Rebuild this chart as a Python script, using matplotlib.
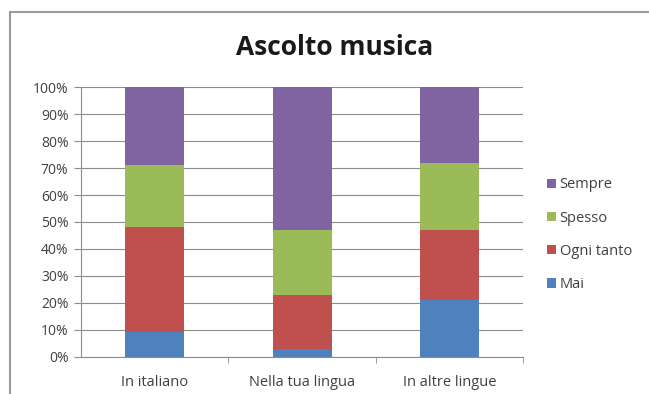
import matplotlib.pyplot as plt
import numpy as np
from matplotlib.patches import Rectangle
from matplotlib.ticker import PercentFormatter

# stacked shares per category (percent)
categories = ['In italiano', 'Nella tua lingua', 'In altre lingue']
mai = [9, 3, 21]
ogni_tanto = [39, 20, 26]
spesso = [23, 24, 25]
sempre = [29, 53, 28]
series_names = ['Mai', 'Ogni tanto', 'Spesso', 'Sempre']
colors = ['#4F81BD', '#C0504D', '#9BBB59', '#8064A2']

plt.rcParams['font.family'] = ['Open Sans', 'DejaVu Sans']

fig = plt.figure(figsize=(6.49, 3.94), dpi=100)
ax = fig.add_axes([0.1248, 0.0947, 0.6812, 0.6837])

# chart area border
fig.patches.append(Rectangle((10 / 649, -0.1), 1.2, 1.1 - 12 / 394,
                             transform=fig.transFigure, fill=False,
                             edgecolor='#9a9a9a', linewidth=1.5))

x = np.arange(len(categories))
bottom = np.zeros(len(categories))
for name, vals, c in zip(series_names, [mai, ogni_tanto, spesso, sempre], colors):
    ax.bar(x, vals, width=0.4, bottom=bottom, color=c, label=name, zorder=3)
    bottom += np.array(vals)

ax.set_xlim(-0.5, 2.5)
ax.set_ylim(0, 100)
ax.set_yticks(np.arange(0, 101, 10))
ax.yaxis.set_major_formatter(PercentFormatter(decimals=0))
ax.grid(axis='y', color='#8c8c8c', linewidth=0.8, zorder=0)
ax.set_xticks(x)
ax.set_xticklabels(categories)
ax.set_xticks([0.5, 1.5, 2.5], minor=True)
ax.tick_params(axis='x', which='major', length=0, pad=13, labelsize=10.5, colors='#404040')
ax.tick_params(axis='x', which='minor', length=4, direction='out', color='#8c8c8c')
ax.tick_params(axis='y', length=5, direction='out', color='#8c8c8c', labelsize=10,
               labelcolor='#404040', pad=4)
for s in ['top', 'right']:
    ax.spines[s].set_visible(False)
ax.spines['left'].set_color('#8c8c8c')
ax.spines['bottom'].set_color('#8c8c8c')

fig.text(0.515, 0.88, 'Ascolto musica', ha='center', va='center',
         fontsize=19, fontweight='bold', color='#1a1a1a')

handles, labels = ax.get_legend_handles_labels()
fig.legend(handles[::-1], labels[::-1], loc='center left',
           bbox_to_anchor=(0.843, 0.404), frameon=False, fontsize=10.5,
           handlelength=0.6, handleheight=0.6, handletextpad=0.25,
           labelspacing=1.25, labelcolor='#404040', borderpad=0, borderaxespad=0)

fig.savefig('out.png', dpi=100)
